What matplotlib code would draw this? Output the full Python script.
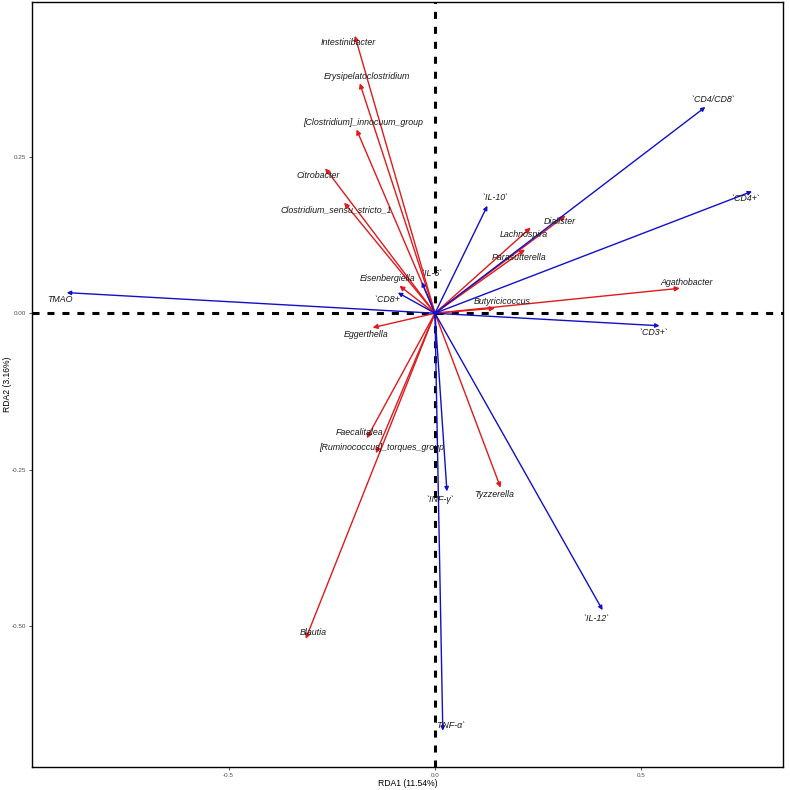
import numpy as np
import matplotlib
matplotlib.use("Agg")
import matplotlib.pyplot as plt

# Environmental factors (blue arrows)
env_names = ['TMAO', '`CD8+`', '`IL-6`', '`IL-10`', '`CD4/CD8`', '`CD4+`',
             '`CD3+`', '`INF-γ`', '`IL-12`', '`TNF-α`']
env_rda1 = [-0.892, -0.090, -0.032, 0.127, 0.655, 0.768, 0.544, 0.029, 0.406, 0.019]
env_rda2 = [0.033, 0.033, 0.050, 0.172, 0.330, 0.195, -0.020, -0.285, -0.475, -0.668]

# Genera (red arrows)
gen_names = ['Intestinibacter', 'Erysipelatoclostridium', '[Clostridium]_innocuum_group',
             'Citrobacter', 'Clostridium_sensu_stricto_1', 'Eisenbergiella', 'Eggerthella',
             'Dialister', 'Lachnospira', 'Parasutterella', 'Agathobacter', 'Butyricicoccus',
             'Faecalitalea', '[Ruminococcus]_torques_group', 'Tyzzerella', 'Blautia']
gen_rda1 = [-0.194, -0.182, -0.190, -0.266, -0.220, -0.086, -0.151,
            0.316, 0.232, 0.218, 0.593, 0.145, -0.165, -0.143, 0.159, -0.313]
gen_rda2 = [0.444, 0.368, 0.294, 0.232, 0.177, 0.044, -0.023,
            0.156, 0.137, 0.102, 0.040, 0.008, -0.200, -0.224, -0.279, -0.521]

# label nudges in pixels (dx, dy up) - mimics the repel placement
env_nudge = [(-7, -7), (-9, -7), (10, 9), (8, 8), (8, 7), (-6, -7), (-6, -7),
             (-7, -8), (-6, -8), (7, 5)]
gen_nudge = [(-7, -7), (7, 7), (7, 7), (-7, -7), (-8, -7), (-12, 7), (-7, -7),
             (-6, -6), (-7, -7), (-6, -8), (7, 6), (7, 7), (-7, 6), (6, 6), (-6, -7), (7, 6)]

xlab = 'RDA1 (11.54%)'
ylab = 'RDA2 (3.16%)'

RED = '#e0191c'
BLUE = '#1010c8'
PX = 0.72  # points per pixel at dpi 100

fig = plt.figure(figsize=(7.9, 7.9), dpi=100)
ax = fig.add_axes([32 / 790, 23 / 790, 751 / 790, 765 / 790])
ax.set_xlim(-0.976, 0.843)
ax.set_ylim(-0.726, 0.498)

ax.axhline(0, color='black', lw=2.2, ls=(0, (2.3, 2.6)), zorder=1)
ax.axvline(0, color='black', lw=2.2, ls=(0, (2.3, 2.6)), zorder=1)


def draw_arrows(xs, ys, names, nudges, color, head):
    for x, y, name, (dx, dy) in zip(xs, ys, names, nudges):
        ax.annotate('', xy=(x, y), xytext=(0, 0),
                    arrowprops=dict(arrowstyle=f'-|>,head_length={head},head_width={head * 0.5}',
                                    color=color, lw=1.0, shrinkA=0, shrinkB=0),
                    zorder=3)
        ax.annotate(name, xy=(x, y), xytext=(dx * PX, dy * PX), textcoords='offset points',
                    ha='center', va='center', fontsize=6.4, style='italic',
                    family='Liberation Sans', color='#1a1a1a', zorder=4)


draw_arrows(gen_rda1, gen_rda2, gen_names, gen_nudge, RED, 0.28)
draw_arrows(env_rda1, env_rda2, env_names, env_nudge, BLUE, 0.24)

ax.set_xticks([-0.5, 0.0, 0.5])
ax.set_xticklabels(['-0.5', '0.0', '0.5'])
ax.set_yticks([-0.5, -0.25, 0.0, 0.25])
ax.set_yticklabels(['-0.50', '-0.25', '0.00', '0.25'])
ax.tick_params(labelsize=4.5, labelcolor='#4d4d4d', color='#333333', length=2.5, width=0.6, pad=2)
for lab in ax.get_xticklabels() + ax.get_yticklabels():
    lab.set_family('Liberation Sans')

for s in ax.spines.values():
    s.set_linewidth(1.0)
    s.set_color('black')

ax.set_xlabel(xlab, fontsize=6.2, family='Liberation Sans')
ax.set_ylabel(ylab, fontsize=6.2, family='Liberation Sans')
ax.xaxis.set_label_coords(0.5, -0.021)
ax.yaxis.set_label_coords(-0.033, 0.5)
ax.xaxis.label.set_va('center')
ax.yaxis.label.set_va('center')

fig.savefig('out.png', dpi=100)
